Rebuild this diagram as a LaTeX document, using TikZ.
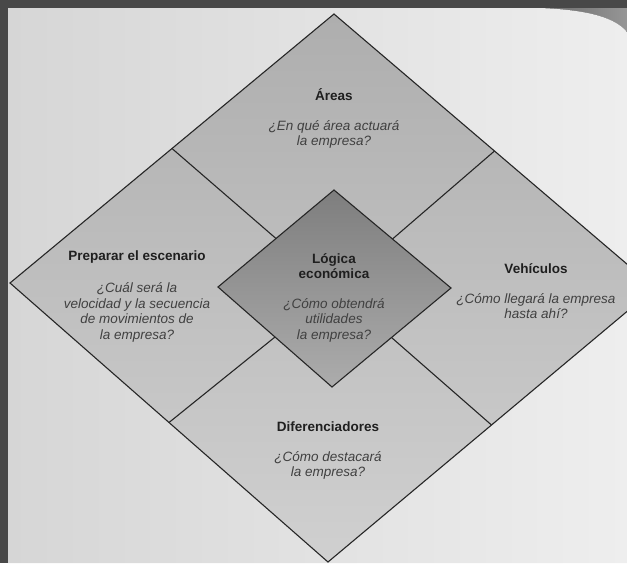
\documentclass[tikz,border=0pt]{standalone}
\usepackage{fontspec}
\setmainfont{Liberation Sans}
\usetikzlibrary{positioning,calc}
\definecolor{framegray}{RGB}{72,72,72}
\definecolor{curlgray}{RGB}{150,150,150}
\definecolor{pageleft}{RGB}{214,214,214}
\definecolor{pageright}{RGB}{238,238,238}
\definecolor{outertop}{RGB}{174,174,174}
\definecolor{outerbottom}{RGB}{208,208,208}
\definecolor{innertop}{RGB}{126,126,126}
\definecolor{innerbottom}{RGB}{172,172,172}
\tikzset{
  border/.style={draw=black!85, line width=1.1pt},
  title/.style={font=\fontsize{13.5}{15.5}\selectfont\bfseries, text=black!88, inner sep=0pt, align=center},
  question/.style={font=\fontsize{13.5}{15.5}\selectfont\itshape, text=black!75, inner sep=0pt, align=center, node distance=19pt}
}

\begin{document}
\begin{tikzpicture}[x=1pt,y=-1pt]
    \useasboundingbox (0,0) rectangle (627,563);
    \clip (0,0) rectangle (627,563);

    % the photographed page
    \fill[framegray] (0,0) rectangle (627,563);
    \shade[left color=curlgray!70!black, right color=curlgray] (540,8) -- (627,8) -- (627,32) .. controls (615,18) and (590,10) .. (540,8);
    \shade[left color=pageleft, right color=pageright] (8,8) -- (540,8) .. controls (590,10) and (615,18) .. (627,32) -- (627,563) -- (8,563) -- cycle;

    % outer and inner diamond corners
    \coordinate (T) at (334,14);
    \coordinate (L) at (10,283);
    \coordinate (B) at (328,562);
    \coordinate (R) at (655,288);
    \coordinate (cT) at (334,190);
    \coordinate (cL) at (218,287);
    \coordinate (cB) at (332,387);
    \coordinate (cR) at (451,288);

    \shadedraw[top color=outertop, bottom color=outerbottom, border] (T) -- (R) -- (B) -- (L) -- cycle;
    \draw[border] ($(T)!0.5!(L)$) -- ($(cT)!0.5!(cL)$);
    \draw[border] ($(T)!0.5!(R)$) -- ($(cT)!0.5!(cR)$);
    \draw[border] ($(B)!0.5!(L)$) -- ($(cB)!0.5!(cL)$);
    \draw[border] ($(B)!0.5!(R)$) -- ($(cB)!0.5!(cR)$);
    \shadedraw[top color=innertop, bottom color=innerbottom, border] (cT) -- (cR) -- (cB) -- (cL) -- cycle;

    \node[title] (Areas) at (334,95) {Áreas};
    \node[question, below=of Areas] (AreasQ) {¿En qué área actuará\\la empresa?};
    \node[title] (Escenario) at (137,257) {Preparar el escenario};
    \node[question, below=of Escenario] (EscenarioQ) {¿Cuál será la\\velocidad y la secuencia\\de movimientos de\\la empresa?};
    \node[title] (Logica) at (334,266) {Lógica\\económica};
    \node[question, below=of Logica] (LogicaQ) {¿Cómo obtendrá\\utilidades\\la empresa?};
    \node[title] (Vehiculos) at (536,269) {Vehículos};
    \node[question, below=of Vehiculos] (VehiculosQ) {¿Cómo llegará la empresa\\hasta ahí?};
    \node[title] (Dif) at (328,427) {Diferenciadores};
    \node[question, below=of Dif] (DifQ) {¿Cómo destacará\\la empresa?};
\end{tikzpicture}
\end{document}
